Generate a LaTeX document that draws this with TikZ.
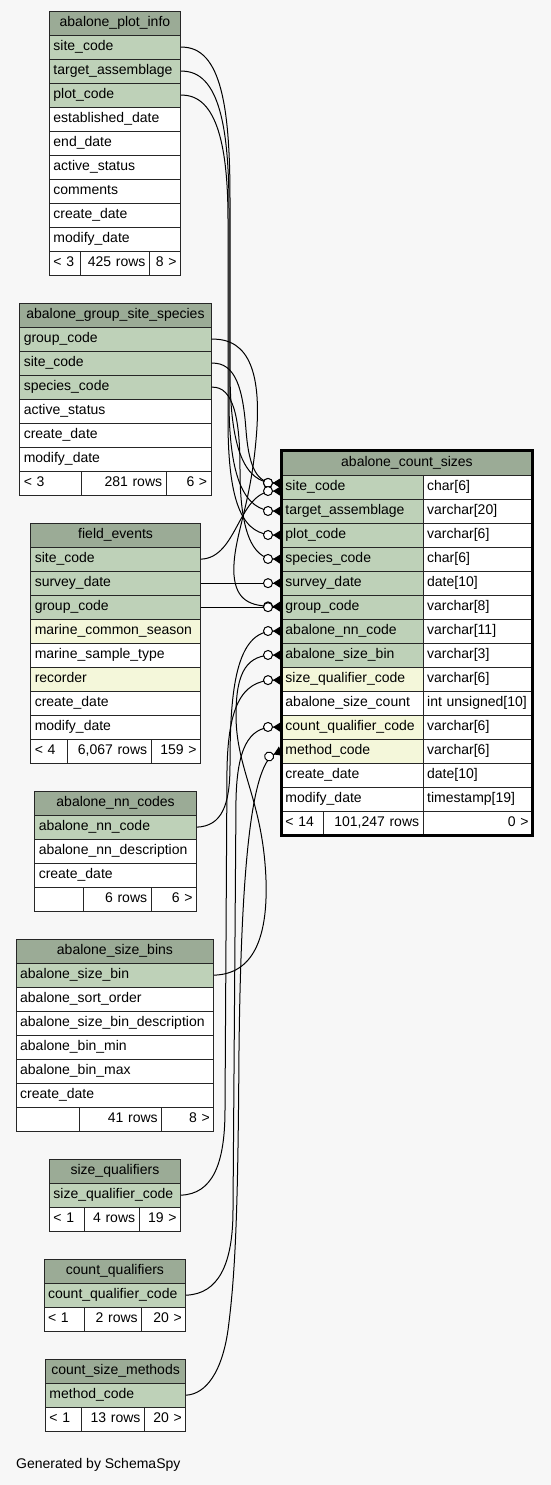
\documentclass[tikz,border=0pt]{standalone}
\usepackage{fontspec}
\setmainfont{Liberation Sans}
\usetikzlibrary{arrows.meta,positioning}
\definecolor{hdrgreen}{HTML}{9BAB96}
\definecolor{keygreen}{HTML}{BED1B8}
\definecolor{idxyellow}{HTML}{F4F7DA}
\definecolor{bggray}{HTML}{F7F7F7}
\tikzset{
  cell/.style={draw=black!85,line width=0.9pt,rectangle,anchor=north west,minimum height=24pt,inner xsep=4pt,inner ysep=0pt,text height=10.5pt,text depth=3pt,font=\fontsize{14}{16}\selectfont},
  hdr/.style={cell,fill=hdrgreen,text width=#1,align=center},
  row/.style={cell,fill=white,text width=#1,align=left},
  rcell/.style={cell,fill=white,text width=#1,align=right},
  fk/.style={line width=1pt,-{Circle[open,fill=white,length=10pt,width=10pt,line width=1pt] Triangle[reversed,length=8pt,width=10pt]}},
  lbl/.style={font=\fontsize{14}{16}\selectfont,anchor=west,inner sep=0pt}
}
\begin{document}
\begin{tikzpicture}[x=1pt,y=-1pt]
  \fill[bggray] (0,0) rectangle (551,1485);
  \useasboundingbox (0,0) rectangle (551,1485);

  % abalone_plot_info
  \node[hdr=123pt] (pi) at (49,10.7) {abalone\_plot\_info};
  \foreach \txt/\clr [count=\i] in {site\_code/keygreen,target\_assemblage/keygreen,plot\_code/keygreen,established\_date/white,end\_date/white,active\_status/white,comments/white,create\_date/white,modify\_date/white}
    \node[row=123pt,fill=\clr] (pi-\i) at (49,{34.7+24*(\i-1)}) {\txt};
  \node[row=22.7pt] (pil) at (49,250.7) {< 3};
  \node[rcell=61.3pt] (pim) at (79.7,250.7) {425 rows};
  \node[rcell=23pt] (pir) at (149,250.7) {8 >};

  % abalone_group_site_species
  \node[hdr=183.4pt] (gss) at (19.3,302.7) {abalone\_group\_site\_species};
  \foreach \txt/\clr [count=\i] in {group\_code/keygreen,site\_code/keygreen,species\_code/keygreen,active\_status/white,create\_date/white,modify\_date/white}
    \node[row=183.4pt,fill=\clr] (gss-\i) at (19.3,{326.7+24*(\i-1)}) {\txt};
  \node[row=53.7pt] (gssl) at (19.3,470.7) {< 3};
  \node[rcell=76.7pt] (gssm) at (81,470.7) {281 rows};
  \node[rcell=37pt] (gssr) at (165.7,470.7) {6 >};

  % field_events
  \node[hdr=161.7pt] (fe) at (30.3,522.7) {field\_events};
  \foreach \txt/\clr [count=\i] in {site\_code/keygreen,survey\_date/keygreen,group\_code/keygreen,marine\_common\_season/idxyellow,marine\_sample\_type/white,recorder/idxyellow,create\_date/white,modify\_date/white}
    \node[row=161.7pt,fill=\clr] (fe-\i) at (30.3,{546.7+24*(\i-1)}) {\txt};
  \node[row=28.4pt] (fel) at (30.3,738.7) {< 4};
  \node[rcell=76pt] (fem) at (66.7,738.7) {6,067 rows};
  \node[rcell=41.3pt] (fer) at (150.7,738.7) {159 >};

  % abalone_nn_codes
  \node[hdr=153.7pt] (nn) at (34.3,790.7) {abalone\_nn\_codes};
  \foreach \txt/\clr [count=\i] in {abalone\_nn\_code/keygreen,abalone\_nn\_description/white,create\_date/white}
    \node[row=153.7pt,fill=\clr] (nn-\i) at (34.3,{814.7+24*(\i-1)}) {\txt};
  \node[row=40.4pt] (nnl) at (34.3,886.7) {};
  \node[rcell=60pt] (nnm) at (82.7,886.7) {6 rows};
  \node[rcell=37.3pt] (nnr) at (150.7,886.7) {6 >};

  % abalone_size_bins
  \node[hdr=189.6pt] (sb) at (15.7,938.7) {abalone\_size\_bins};
  \foreach \txt/\clr [count=\i] in {abalone\_size\_bin/keygreen,abalone\_sort\_order/white,abalone\_size\_bin\_description/white,abalone\_bin\_min/white,abalone\_bin\_max/white,create\_date/white}
    \node[row=189.6pt,fill=\clr] (sb-\i) at (15.7,{962.7+24*(\i-1)}) {\txt};
  \node[row=55pt] (sbl) at (15.7,1106.7) {};
  \node[rcell=74.6pt] (sbm) at (78.7,1106.7) {41 rows};
  \node[rcell=44pt] (sbr) at (161.3,1106.7) {8 >};

  % size_qualifiers
  \node[hdr=123pt] (sq) at (49,1158.7) {size\_qualifiers};
  \node[row=123pt,fill=keygreen] (sq-1) at (49,1182.7) {size\_qualifier\_code};
  \node[row=27pt] (sql) at (49,1206.7) {< 1};
  \node[rcell=46.7pt] (sqm) at (84,1206.7) {4 rows};
  \node[rcell=33.3pt] (sqr) at (138.7,1206.7) {19 >};

  % count_qualifiers
  \node[hdr=133.6pt] (cq) at (43.7,1258.7) {count\_qualifiers};
  \node[row=133.6pt,fill=keygreen] (cq-1) at (43.7,1282.7) {count\_qualifier\_code};
  \node[row=32.3pt] (cql) at (43.7,1306.7) {< 1};
  \node[rcell=49.3pt] (cqm) at (84,1306.7) {2 rows};
  \node[rcell=36pt] (cqr) at (141.3,1306.7) {20 >};

  % count_size_methods
  \node[hdr=132.3pt] (csm) at (45,1358.7) {count\_size\_methods};
  \node[row=132.3pt,fill=keygreen] (csm-1) at (45,1382.7) {method\_code};
  \node[row=28pt] (csml) at (45,1406.7) {< 1};
  \node[rcell=55pt] (csmm) at (81,1406.7) {13 rows};
  \node[rcell=33.3pt] (csmr) at (144,1406.7) {20 >};

  % abalone_count_sizes
  \node[hdr=243pt] (cs) at (281,450.7) {abalone\_count\_sizes};
  \foreach \txt/\clr/\typ [count=\i] in {site\_code/keygreen/char[6],target\_assemblage/keygreen/varchar[20],plot\_code/keygreen/varchar[6],species\_code/keygreen/char[6],survey\_date/keygreen/date[10],group\_code/keygreen/varchar[8],abalone\_nn\_code/keygreen/varchar[11],abalone\_size\_bin/keygreen/varchar[3],size\_qualifier\_code/idxyellow/varchar[6],abalone\_size\_count/white/int unsigned[10],count\_qualifier\_code/idxyellow/varchar[6],method\_code/idxyellow/varchar[6],create\_date/white/date[10],modify\_date/white/timestamp[19]}
  {
    \node[row=133.7pt,fill=\clr] (cs-\i) at (281,{474.7+24*(\i-1)}) {\txt};
    \node[row=101.3pt] (cst-\i) at (422.7,{474.7+24*(\i-1)}) {\typ};
  }
  \node[row=33.7pt] (csl) at (281,810.7) {< 14};
  \node[rcell=92pt] (csmid) at (322.7,810.7) {101,247 rows};
  \node[rcell=101.3pt] (csr) at (422.7,810.7) {0 >};

  % foreign keys
  \draw[fk] (pi-1.east) .. controls (222,46) and (230,110) .. (230,200) -- (230,370) .. controls (230,450) and (245,482.7) .. ([yshift=4pt]cs-1.west);
  \draw[fk] (pi-2.east) .. controls (220,70) and (229,130) .. (229,210) -- (229,400) .. controls (229,480) and (245,510.7) .. (cs-2.west);
  \draw[fk] (pi-3.east) .. controls (218,94) and (228,150) .. (228,220) -- (228,420) .. controls (228,510) and (245,534.7) .. (cs-3.west);
  \draw[fk] (gss-1.east) .. controls (250,338) and (262,375) .. (256,440) .. controls (250,510) and (232,540) .. (234,575) .. controls (236,600) and (250,606.7) .. ([yshift=1pt]cs-6.west);
  \draw[fk] (gss-2.east) .. controls (236,362) and (243,390) .. (246,430) .. controls (249,470) and (258,482.7) .. ([yshift=4pt]cs-1.west);
  \draw[fk] (gss-3.east) .. controls (234,386) and (240,420) .. (240,470) .. controls (240,530) and (252,558.7) .. (cs-4.west);
  \draw[fk] (fe-1.east) .. controls (238,558) and (238,490.7) .. ([yshift=-4pt]cs-1.west);
  \draw[fk] (fe-2.east) -- (cs-5.west);
  \draw[fk] (fe-3.east) -- (cs-6.west);
  \draw[fk] (nn-1.east) .. controls (222,826) and (230,805) .. (230,765) .. controls (230,690) and (236,630.7) .. (cs-7.west);
  \draw[fk] (sb-1.east) .. controls (252,974) and (268,940) .. (266,880) .. controls (263,800) and (236,770) .. (236,715) .. controls (236,670) and (248,654.7) .. (cs-8.west);
  \draw[fk] (sq-1.east) .. controls (212,1194) and (225,1165) .. (225,1110) -- (227,770) .. controls (228,710) and (240,680) .. ([yshift=-1pt]cs-9.west);
  \draw[fk] (cq-1.east) .. controls (218,1294) and (233,1265) .. (233,1210) -- (236,800) .. controls (237,750) and (248,726.7) .. (cs-11.west);
  \draw[fk] (csm-1.east) .. controls (206,1394) and (222,1372) .. (228,1330) .. controls (236,1270) and (238,1200) .. (239,1050) .. controls (241,880) and (250,765) .. (cs-12.west);

  \draw[line width=3pt] (cs.north west) rectangle (csr.south east);

  \node[lbl] (gen) at (16,1465) {Generated by SchemaSpy};
\end{tikzpicture}
\end{document}
